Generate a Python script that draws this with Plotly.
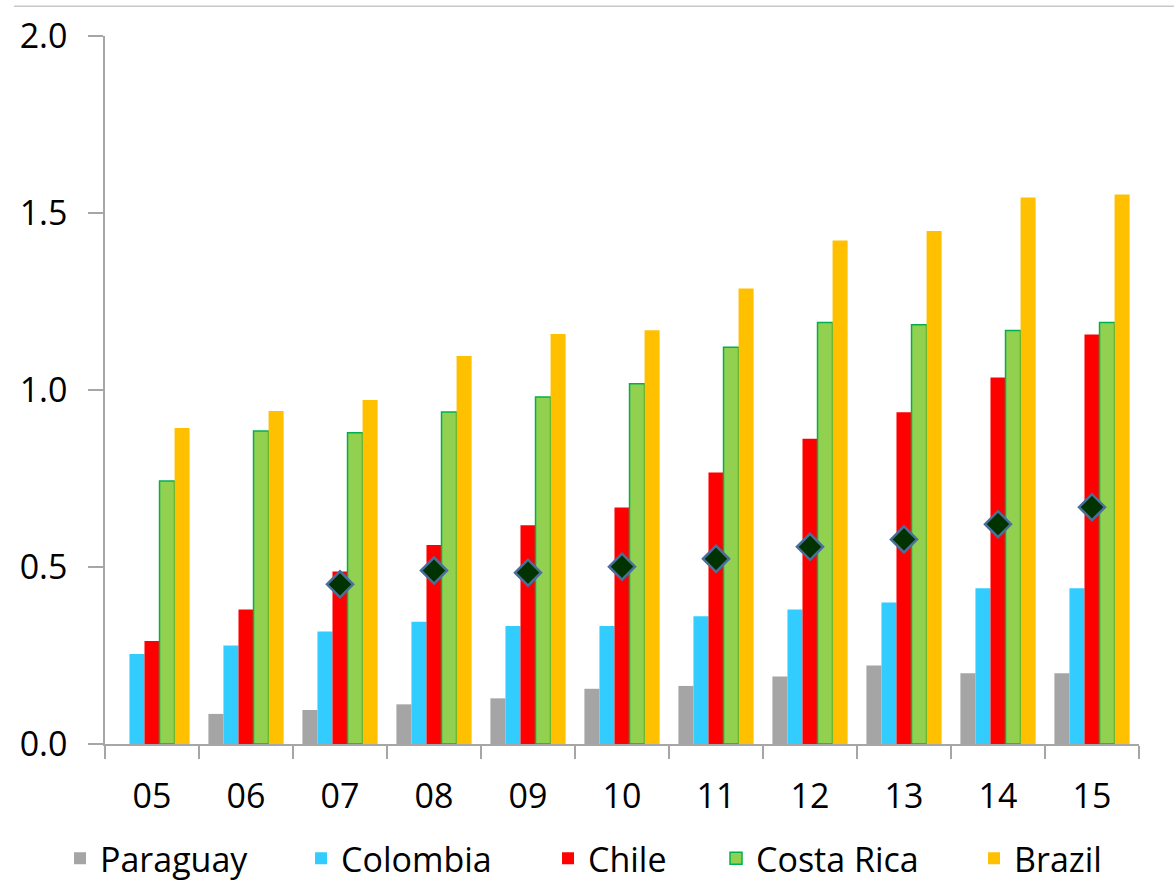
import plotly.graph_objects as go

years = ["05", "06", "07", "08", "09", "10", "11", "12", "13", "14", "15"]
paraguay = [None, 0.085, 0.096, 0.112, 0.129, 0.156, 0.164, 0.191, 0.222, 0.200, 0.200]
colombia = [0.254, 0.278, 0.318, 0.345, 0.333, 0.333, 0.361, 0.380, 0.400, 0.440, 0.440]
chile = [0.291, 0.380, 0.487, 0.562, 0.618, 0.668, 0.767, 0.862, 0.937, 1.035, 1.157]
costa_rica = [0.743, 0.884, 0.879, 0.938, 0.980, 1.018, 1.121, 1.191, 1.184, 1.168, 1.191]
brazil = [0.893, 0.941, 0.972, 1.096, 1.158, 1.169, 1.287, 1.422, 1.449, 1.544, 1.552]
average = [None, None, 0.451, 0.490, 0.484, 0.501, 0.523, 0.557, 0.578, 0.621, 0.669]

FONT = "Open Sans"
FS = 34
AXIS_COLOR = "#a6a6a6"

fig = go.Figure()
fig.add_trace(go.Bar(name="Paraguay", x=years, y=paraguay, legendwidth=196,
                     marker=dict(color="#a5a5a5", line=dict(width=0))))
fig.add_trace(go.Bar(name="Colombia", x=years, y=colombia, legendwidth=202,
                     marker=dict(color="#33ccff", line=dict(width=0))))
fig.add_trace(go.Bar(name="Chile", x=years, y=chile, legendwidth=123,
                     marker=dict(color="#ff0000", line=dict(width=0))))
fig.add_trace(go.Bar(name="Costa Rica", x=years, y=costa_rica, legendwidth=213,
                     marker=dict(color="#92d050", line=dict(color="#00b050", width=1.5))))
fig.add_trace(go.Bar(name="Brazil", x=years, y=brazil,
                     marker=dict(color="#ffc000", line=dict(width=0))))
fig.add_trace(go.Scatter(name="Average", x=years, y=average, mode="markers", showlegend=False,
                         marker=dict(symbol="diamond", size=20, color="#003300",
                                     line=dict(color="#4a6f9a", width=2.5))))

fig.update_layout(
    width=1174, height=884,
    barmode="group", bargap=0.2, bargroupgap=0,
    plot_bgcolor="white", paper_bgcolor="white",
    margin=dict(l=105, r=35, t=36, b=140, autoexpand=False),
    font=dict(family=FONT, size=FS, color="black"),
    legend=dict(orientation="h", x=-0.0435, xanchor="left", y=-0.162, yanchor="middle",
                font=dict(size=FS), itemwidth=30, traceorder="normal"),
    shapes=[dict(type="line", xref="paper", yref="paper", x0=-0.088, x1=1.04, y0=1.042, y1=1.042,
                 line=dict(color="#c8c8c8", width=1.5))],
)
fig.update_xaxes(type="category", range=[-0.5, len(years) - 0.5], showline=True, linecolor=AXIS_COLOR,
                 linewidth=1.5, ticks="outside", tickson="boundaries", ticklen=13, tickcolor=AXIS_COLOR,
                 tickwidth=1.5, showgrid=False, ticklabelstandoff=21, automargin=False,
                 tickfont=dict(size=FS, family=FONT))
fig.update_yaxes(range=[0, 2.0], dtick=0.5, tickformat=".1f", showline=True, linecolor=AXIS_COLOR,
                 linewidth=1.5, ticks="outside", ticklen=15, tickcolor=AXIS_COLOR, tickwidth=1.5,
                 showgrid=False, zeroline=False, ticklabelstandoff=14, automargin=False,
                 tickfont=dict(size=FS, family=FONT))

fig.write_html("out.html")
